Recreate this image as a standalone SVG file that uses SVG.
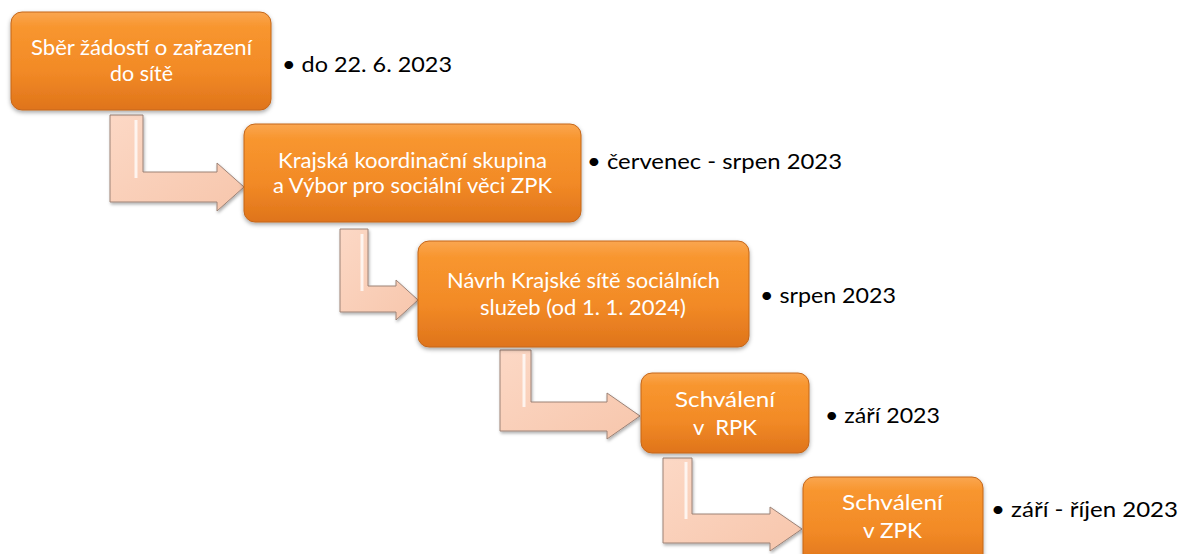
<svg xmlns="http://www.w3.org/2000/svg" width="1183" height="554" viewBox="0 0 1183 554">
<defs>
<linearGradient id="og" x1="0" y1="0" x2="0" y2="1">
<stop offset="0" stop-color="#FAA650"/>
<stop offset="0.15" stop-color="#F8962F"/>
<stop offset="0.6" stop-color="#F28A26"/>
<stop offset="1" stop-color="#DF741B"/>
</linearGradient>
<linearGradient id="pg" x1="0" y1="0" x2="1" y2="1">
<stop offset="0" stop-color="#FCD8C5"/>
<stop offset="1" stop-color="#F7C6AC"/>
</linearGradient>
<filter id="sh" x="-10%" y="-10%" width="120%" height="130%">
<feDropShadow dx="0" dy="2" stdDeviation="2" flood-color="#000" flood-opacity="0.35"/>
</filter>
<filter id="sh2" x="-10%" y="-10%" width="130%" height="130%">
<feDropShadow dx="1" dy="2" stdDeviation="1.5" flood-color="#000" flood-opacity="0.3"/>
</filter>
</defs>
<style>
.box{fill:url(#og);stroke:#C4661A;stroke-width:1;filter:url(#sh)}
.arr{fill:url(#pg);stroke:#9C8276;stroke-width:1;filter:url(#sh2)}
.hl{fill:none;stroke:#FFFFFF;stroke-opacity:0.75;stroke-width:3}
.t{font-family:Lato,"Liberation Sans",sans-serif;font-size:21px;fill:#FFFFFF;white-space:pre}
.b{font-family:Lato,"Liberation Sans",sans-serif;font-size:20.5px;fill:#000000}
</style>
<rect width="1183" height="554" fill="#FFFFFF"/>
<g id="connectors">
<path class="arr" d="M110,115 H143 V172 H217 V163 L244,187 L217,211 V202 H110 Z"/>
<path class="hl" d="M136,120 V178"/>
<path class="arr" d="M340,229 H368 V286 H396 V280 L418,300 L396,320 V312 H340 Z"/>
<path class="hl" d="M362,234 V291"/>
<path class="arr" d="M500,350 H531 V402 H607 V393 L640,416 L607,439 V431 H500 Z"/>
<path class="hl" d="M524,354 V407"/>
<path class="arr" d="M663,458 H692 V514 H770 V507 L802,529 L770,551 V543 H663 Z"/>
<path class="hl" d="M686,462 V519"/>
</g>
<g id="n1">
<rect class="box" x="11" y="12" width="260" height="98" rx="11"/>
<text class="t" x="31" y="55" textLength="221" lengthAdjust="spacingAndGlyphs">Sběr žádostí o zařazení</text>
<text class="t" x="110" y="81" textLength="63" lengthAdjust="spacingAndGlyphs">do sítě</text>
</g>
<g id="n1b"><text class="b" x="282" y="72" textLength="170" lengthAdjust="spacingAndGlyphs">• do 22. 6. 2023</text></g>
<g id="n2">
<rect class="box" x="244" y="124" width="337" height="98" rx="11"/>
<text class="t" x="278" y="168" textLength="269" lengthAdjust="spacingAndGlyphs">Krajská koordinační skupina</text>
<text class="t" x="273" y="193" textLength="279" lengthAdjust="spacingAndGlyphs">a Výbor pro sociální věci ZPK</text>
</g>
<g id="n2b"><text class="b" x="587" y="169" textLength="255" lengthAdjust="spacingAndGlyphs">• červenec - srpen 2023</text></g>
<g id="n3">
<rect class="box" x="418" y="241" width="331" height="106" rx="11"/>
<text class="t" x="447" y="288" textLength="273" lengthAdjust="spacingAndGlyphs">Návrh Krajské sítě sociálních</text>
<text class="t" x="480" y="315" textLength="206" lengthAdjust="spacingAndGlyphs">služeb (od 1. 1. 2024)</text>
</g>
<g id="n3b"><text class="b" x="760" y="303" textLength="136" lengthAdjust="spacingAndGlyphs">• srpen 2023</text></g>
<g id="n4">
<rect class="box" x="641" y="373" width="168" height="80" rx="11"/>
<text class="t" x="675" y="407" textLength="100" lengthAdjust="spacingAndGlyphs">Schválení</text>
<text class="t" x="693" y="435" textLength="64" lengthAdjust="spacingAndGlyphs" xml:space="preserve">v  RPK</text>
</g>
<g id="n4b"><text class="b" x="825" y="423" textLength="115" lengthAdjust="spacingAndGlyphs">• září 2023</text></g>
<g id="n5">
<rect class="box" x="803" y="477" width="180" height="90" rx="11"/>
<text class="t" x="842" y="510" textLength="101" lengthAdjust="spacingAndGlyphs">Schválení</text>
<text class="t" x="863" y="538" textLength="59" lengthAdjust="spacingAndGlyphs">v ZPK</text>
</g>
<g id="n5b"><text class="b" x="991" y="517" textLength="187" lengthAdjust="spacingAndGlyphs">• září - říjen 2023</text></g>
</svg>
